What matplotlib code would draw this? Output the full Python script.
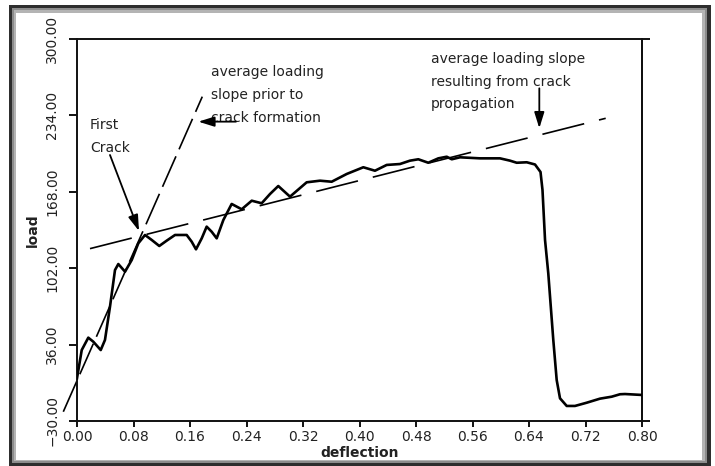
import matplotlib
matplotlib.use("Agg")
import matplotlib.pyplot as plt
from matplotlib.patches import Rectangle

plt.rcParams['font.family'] = ['DejaVu Sans']
plt.rcParams['lines.scale_dashes'] = False

# load / deflection curve
deflection = [0.000, 0.0067, 0.0160, 0.0231, 0.0336, 0.0396, 0.0467, 0.0538, 0.0585,
              0.0680, 0.0775, 0.0868, 0.0963, 0.1058, 0.1165, 0.1270, 0.1388, 0.1553,
              0.1624, 0.1685, 0.1766, 0.1836, 0.1907, 0.1978, 0.2072, 0.2190, 0.2332,
              0.2474, 0.2615, 0.2733, 0.2850, 0.3016, 0.3252, 0.3441, 0.3606, 0.3819,
              0.4054, 0.4219, 0.4385, 0.4573, 0.4715, 0.4833, 0.4974, 0.5116, 0.5235,
              0.5306, 0.5423, 0.5706, 0.5989, 0.6131, 0.6226, 0.6368, 0.6485, 0.6563,
              0.6591, 0.6627, 0.6673, 0.6744, 0.6792, 0.6839, 0.6934, 0.7051, 0.7217,
              0.7405, 0.7571, 0.7688, 0.7759, 0.800]
load = [6.9, 31.3, 42.0, 38.5, 31.3, 40.0, 68.7, 100.4, 105.6,
        99.0, 109.1, 123.5, 130.7, 126.4, 121.2, 125.8, 130.7, 130.7,
        124.9, 118.3, 127.8, 137.9, 133.5, 127.8, 143.6, 157.5, 152.9,
        160.3, 158.1, 166.1, 173.0, 163.8, 176.2, 177.6, 176.7, 183.4,
        189.2, 186.2, 191.2, 192.0, 194.9, 196.1, 193.1, 196.9, 198.3,
        196.1, 197.8, 196.9, 196.9, 194.9, 193.1, 193.5, 191.6, 185.1,
        169.6, 126.4, 97.6, 40.0, 5.4, -10.4, -17.0, -17.0, -14.2,
        -10.7, -9.0, -6.9, -6.7, -7.5]

# dashed slope lines (end points)
pre_crack_x = [-0.0194, 0.1774]
pre_crack_y = [-22.0, 250.2]
propagation_x = [0.0184, 0.7486]
propagation_y = [118.9, 231.5]

x_ticks = [0.00, 0.08, 0.16, 0.24, 0.32, 0.40, 0.48, 0.56, 0.64, 0.72, 0.80]
y_ticks = [-30, 36, 102, 168, 234, 300]

W, H = 715, 466
fig = plt.figure(figsize=(W / 100, H / 100), dpi=100)
fig.patch.set_facecolor('white')


def frame_rect(x0, y0, x1, y1, color):
    # pixel box, y measured from the top of the picture
    fig.add_artist(Rectangle((x0 / W, 1 - y1 / H), (x1 - x0) / W, (y1 - y0) / H,
                             transform=fig.transFigure, facecolor=color,
                             edgecolor='none', zorder=-10))


frame_rect(9, 5, 711, 466, '#2e2e2e')
frame_rect(12, 8, 707, 463, '#8c8c8c')
frame_rect(14, 10, 705, 461, '#b4b4b4')
frame_rect(16, 13, 702, 460, 'white')

ax = fig.add_axes([77 / W, 1 - 421 / H, (642 - 77) / W, (421 - 39) / H])
ax.set_facecolor('none')

ax.plot(deflection, load, color='black', lw=1.9, solid_joinstyle='round', zorder=3)
ax.plot(pre_crack_x, pre_crack_y, color='black', lw=1.2, dashes=(24, 5.5), clip_on=False)
ax.plot(propagation_x, propagation_y, color='black', lw=1.2, dashes=(31, 11))

ax.set_xlim(0, 0.8)
ax.set_ylim(-30, 300)
ax.set_xticks(x_ticks)
ax.set_xticklabels([f"{v:.2f}" for v in x_ticks])
ax.set_yticks(y_ticks)
ax.set_yticklabels([f"{v:.2f}".replace('-', '\u2212') for v in y_ticks])

txt = '#222222'
for s in ax.spines.values():
    s.set_linewidth(1.4)
    s.set_color('#111111')
ax.tick_params(axis='x', length=4.3, width=1.4, pad=2, labelsize=10, colors='#111111', labelcolor=txt)
ax.tick_params(axis='y', length=5.8, width=1.4, pad=7, labelsize=10, labelrotation=90,
               colors='#111111', labelcolor=txt)
for lab in ax.get_yticklabels():
    lab.set_va('center')

right = ax.secondary_yaxis('right')
right.set_yticks([-30, 300])
right.set_yticklabels(['', ''])
right.tick_params(length=5.8, width=1.4, colors='#111111')
right.spines['right'].set_linewidth(1.4)

ax.set_xlabel('deflection', fontsize=10, fontweight='bold', color=txt)
ax.xaxis.set_label_coords(0.5, -0.065)
ax.set_ylabel('load', fontsize=10, fontweight='bold', color=txt)
ax.yaxis.set_label_coords(-0.066, 0.5)

ax.text(0.1893, 277.5, "average loading\nslope prior to\ncrack formation",
        fontsize=10, color=txt, ha='left', va='top', linespacing=1.8)
ax.text(0.0184, 231.5, "First\nCrack", fontsize=10, color=txt, ha='left', va='top',
        linespacing=1.8)
ax.text(0.5012, 289.0, "average loading slope\nresulting from crack\npropagation",
        fontsize=10, color=txt, ha='left', va='top', linespacing=1.8)

arrow = dict(arrowstyle='-|>,head_length=0.8,head_width=0.25', color='black', lw=1.3,
             mutation_scale=12, shrinkA=0, shrinkB=0)
ax.annotate('', xy=(0.1718, 228.6), xytext=(0.2251, 228.6), arrowprops=arrow)
ax.annotate('', xy=(0.0878, 134.1), xytext=(0.0467, 199.8), arrowprops=arrow)
ax.annotate('', xy=(0.6546, 222.9), xytext=(0.6546, 257.4), arrowprops=arrow)

fig.savefig('out.png', dpi=100)
